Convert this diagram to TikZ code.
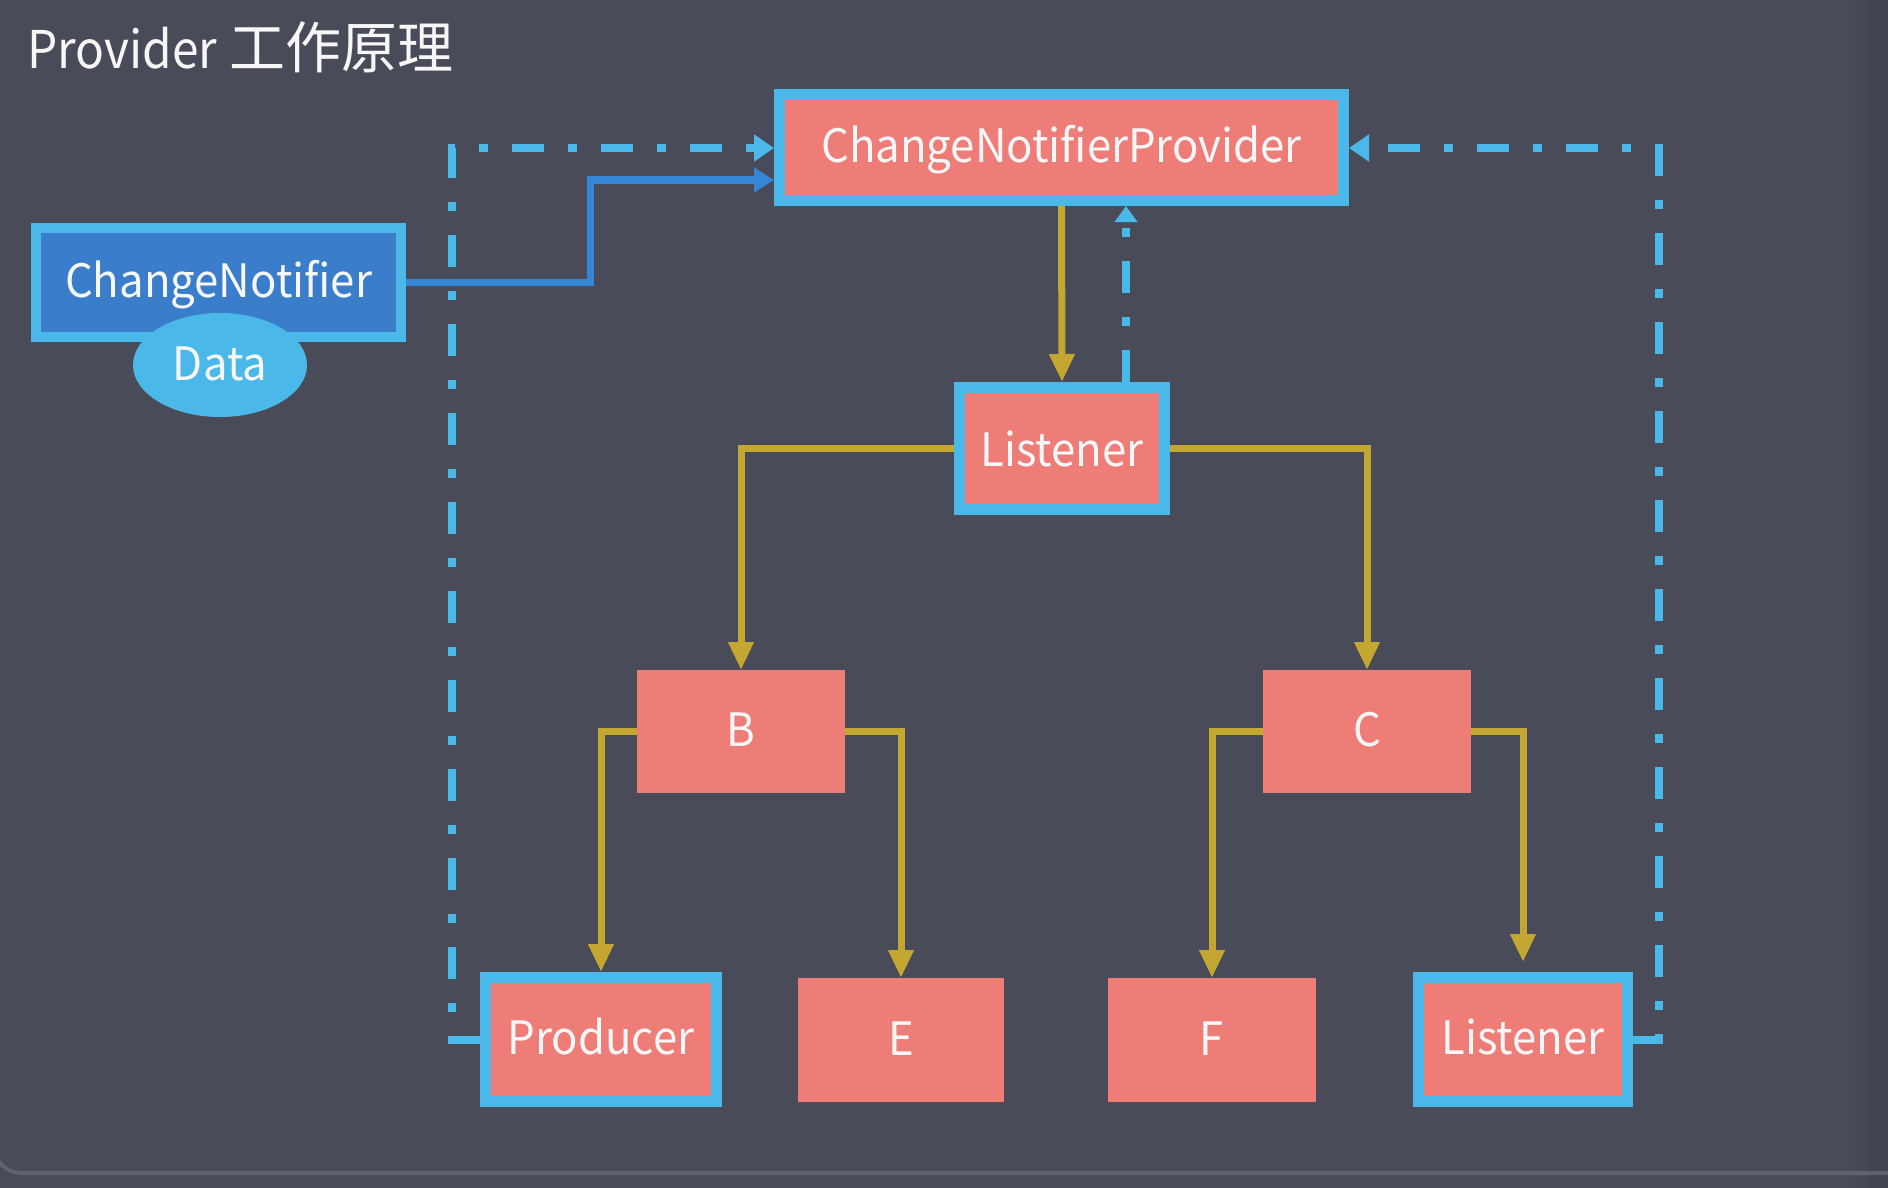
\documentclass[tikz,border=0pt]{standalone}
\usepackage{fontspec}
\setmainfont{Noto Sans CJK SC}
\newfontfamily\lblfam[FakeStretch=0.95]{Noto Sans CJK SC}
\newfontfamily\latfam[FakeStretch=0.92]{Noto Sans CJK SC}
\usetikzlibrary{arrows.meta,shapes.geometric,calc}
\definecolor{bg}{HTML}{494C58}
\definecolor{bgdark}{HTML}{3F424D}
\definecolor{edgeline}{HTML}{60636F}
\definecolor{salmon}{HTML}{EE7D78}
\definecolor{lblue}{HTML}{4BB8EA}
\definecolor{cnblue}{HTML}{3A7ECB}
\definecolor{lineblue}{HTML}{3686D6}
\definecolor{ylw}{HTML}{C3A730}
\definecolor{txt}{HTML}{F7F7F7}
\newcommand{\lblfont}{\lblfam\fontsize{46}{52}\selectfont}
\begin{document}
\begin{tikzpicture}[x=1pt,y=-1pt,
  lbl/.style={text=txt, font=\lblfont, inner sep=0, text height=30pt, text depth=0pt, align=center},
  redbox/.style={lbl, rectangle, fill=salmon, outer sep=0},
  bluebox/.style={lbl, rectangle, fill=salmon, draw=lblue, line width=11},
  yarrow/.style={draw=ylw, line width=7, -{Triangle[length=28pt,width=24pt]}},
  dashdot/.style={draw=lblue, line width=8, dash pattern=on 32pt off 24pt on 9pt off 24pt},
  ddtip/.style={-{Triangle[length=20pt,width=26pt]}},
  bline/.style={draw=lineblue, line width=7, -{Triangle[length=20pt,width=24pt]}}
]
\useasboundingbox (0,0) rectangle (1888,1188);
\fill[bg] (0,0) rectangle (1888,1188);
\shade[left color=bg, right color=bgdark] (1850,0) rectangle (1888,1188);
\draw[edgeline, line width=4, rounded corners=30] (-8,1000) -- (-8,1173) -- (1900,1173);

% title
\node[anchor=base west, inner sep=0, text=txt] (title) at (27,69) {{\latfam\fontsize{52}{60}\selectfont Provider}\hspace{12pt}{\fontsize{56}{60}\selectfont 工作原理}};

% nodes
\node[bluebox, minimum width=564, minimum height=106] (cnp) at (1061.5,147.5) {ChangeNotifierProvider};
\node[lbl, rectangle, fill=cnblue, draw=lblue, line width=10, minimum width=365, minimum height=109] (cn) at (218.5,282.5) {ChangeNotifier};
\node[lbl, ellipse, fill=lblue, minimum width=174, minimum height=104] (data) at (220,365) {Data};
\node[bluebox, minimum width=205, minimum height=122] (lis1) at (1062,448.5) {\raisebox{-3pt}{Listener}};
\node[redbox, minimum width=208, minimum height=123] (b) at (741,731.5) {B};
\node[redbox, minimum width=208, minimum height=123] (c) at (1367,731.5) {C};
\node[bluebox, minimum width=231, minimum height=124] (prod) at (601,1039.5) {Producer};
\node[redbox, minimum width=206, minimum height=124] (e) at (901,1040) {E};
\node[redbox, minimum width=208, minimum height=124] (f) at (1212,1040) {F};
\node[bluebox, minimum width=209, minimum height=124] (lis2) at (1523,1039.5) {Listener};

% helper coordinates
\coordinate (j1) at (590,180);
\coordinate (dl) at (452,148);
\coordinate (dr) at (1659,148);
\coordinate (up) at (1126,0);

% blue solid connector
\draw[bline] (cn.east) -| (j1) -- (j1 -| cnp.west);

% dash-dot connectors
\draw[dashdot, ddtip] (prod.west) -| (dl) -- (dl -| cnp.west);
\draw[dashdot, ddtip] (lis2.east) -| (dr) -- (dr -| cnp.east);
\draw[dashdot, -{Triangle[length=16pt,width=22pt]}] (lis1.north -| up) -- (cnp.south -| up);

% yellow connectors
\draw[yarrow] (cnp.south) -- (lis1.north);
\draw[yarrow] (lis1.west) -| (b.north);
\draw[yarrow] (lis1.east) -| (c.north);
\draw[yarrow] (b.west) -| (prod.north);
\draw[yarrow] (b.east) -| (e.north);
\draw[yarrow] (c.west) -| (f.north);
\draw[yarrow, shorten >=10pt] (c.east) -| (lis2.north);
\end{tikzpicture}
\end{document}
